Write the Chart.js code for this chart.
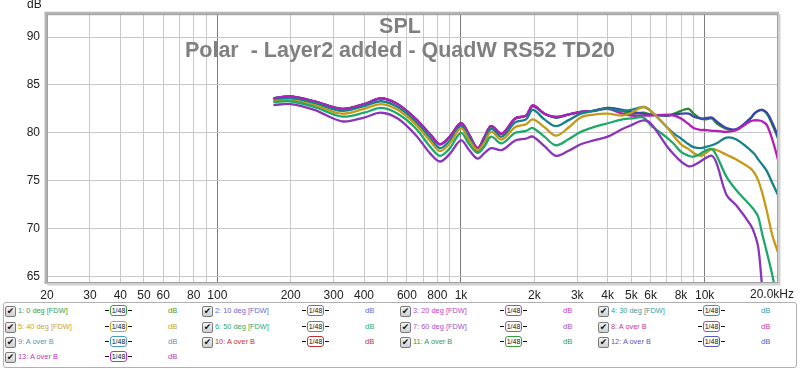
<!DOCTYPE html>
<html>
<head>
<meta charset="utf-8">
<script src="https://cdn.jsdelivr.net/npm/chart.js@4.4.0/dist/chart.umd.min.js"></script>
<style>
body{margin:0;background:#fff;font-family:"Liberation Sans",Arial,sans-serif;}
#wrap{position:relative;width:800px;height:300px;}
#legendBox{position:absolute;left:3px;top:302px;width:792px;height:64px;border:1px solid #b0b0b0;border-radius:3px;}
.cb{position:absolute;width:9px;height:9px;border:1px solid #7a7a7a;background:linear-gradient(#f4f4f4,#cfcfcf);border-radius:2px;font-size:9px;line-height:9px;text-align:center;color:#111;font-family:"DejaVu Sans",sans-serif;}
.lbl{position:absolute;font-size:7.4px;line-height:12px;white-space:nowrap;}
.flt{position:absolute;width:15px;height:9px;border:1.5px solid;border-radius:3px;font-size:7px;line-height:9px;text-align:center;color:#111;background:#fff;}
.flt:before,.flt:after{content:"";position:absolute;top:4px;width:4px;border-top:1.5px solid;}
.flt:before{left:-6px}.flt:after{right:-6px}
.db{position:absolute;font-size:7.6px;line-height:12px;}
</style>
</head>
<body>
<div id="wrap"><canvas id="spl" width="800" height="300"></canvas></div>
<div id="legendBox"></div>
<div id="legend"></div>
<script>
// frequency points (Hz) shared by all traces
const freqs = [170, 200, 250, 325, 400, 470, 550, 650, 750, 820, 900, 1000, 1080, 1170, 1250, 1330, 1470, 1670, 1850, 1970, 2200, 2450, 2750, 3100, 3500, 4000, 4600, 5000, 5600, 6000, 7000, 7500, 8000, 8600, 9000, 9600, 10000, 10700, 11200, 12300, 13500, 15400, 16000, 16600, 17200, 18000, 19000, 20000];

const deg0  = [83.6, 83.8, 83.3, 82.5, 83.0, 83.6, 83.0, 81.5, 79.8, 78.8, 79.6, 81.0, 79.8, 78.4, 79.6, 80.7, 79.9, 81.5, 81.8, 82.8, 82.0, 81.6, 81.9, 82.2, 82.3, 82.6, 82.3, 82.0, 82.1, 81.9, 81.8, 82.0, 82.3, 82.5, 82.0, 81.5, 81.4, 81.5, 81.0, 80.4, 80.3, 81.5, 82.0, 82.3, 82.4, 82.0, 80.8, 79.4];
const deg10 = [83.6, 83.8, 83.3, 82.5, 83.0, 83.6, 83.0, 81.5, 79.8, 78.8, 79.6, 81.0, 79.8, 78.4, 79.6, 80.7, 79.9, 81.5, 81.8, 82.8, 82.0, 81.6, 81.9, 82.2, 82.3, 82.6, 82.4, 82.2, 82.0, 81.9, 81.8, 81.9, 82.0, 82.0, 81.7, 81.5, 81.5, 81.6, 81.2, 80.5, 80.4, 81.5, 82.0, 82.3, 82.4, 82.1, 81.0, 79.6];
const deg20 = [83.6, 83.8, 83.3, 82.5, 83.0, 83.6, 83.0, 81.5, 79.8, 78.8, 79.6, 81.0, 79.8, 78.4, 79.6, 80.7, 79.9, 81.5, 81.8, 82.9, 82.0, 81.7, 81.9, 82.2, 82.3, 82.5, 82.0, 81.8, 81.8, 81.8, 81.9, 81.8, 81.5, 80.9, 80.5, 80.3, 80.3, 80.2, 80.2, 80.1, 80.3, 81.2, 81.3, 81.3, 81.2, 80.8, 79.2, 77.2];
const deg30 = [83.4, 83.6, 83.1, 82.3, 82.8, 83.3, 82.7, 81.2, 79.4, 78.4, 79.2, 80.7, 79.5, 78.1, 79.2, 80.4, 79.6, 81.1, 81.4, 82.4, 81.4, 80.7, 81.3, 82.0, 82.3, 82.5, 82.3, 82.4, 82.7, 82.3, 80.6, 79.9, 79.4, 78.8, 78.5, 78.4, 78.5, 78.7, 78.9, 79.5, 79.3, 78.2, 77.8, 77.2, 76.7, 76.0, 74.7, 73.5];
const deg40 = [83.3, 83.4, 82.9, 82.0, 82.5, 83.0, 82.4, 80.9, 79.1, 78.1, 78.9, 80.5, 79.2, 78.2, 79.0, 80.1, 79.3, 80.6, 80.9, 81.4, 80.6, 79.7, 80.5, 81.6, 81.9, 82.0, 81.8, 82.1, 82.7, 82.3, 80.6, 79.6, 78.8, 78.3, 77.9, 77.6, 77.8, 78.3, 78.2, 77.7, 77.2, 76.3, 75.8, 75.0, 73.8, 71.8, 69.2, 67.5];
const deg50 = [83.2, 83.3, 82.7, 81.7, 82.1, 82.6, 82.0, 80.5, 78.5, 77.6, 78.4, 80.0, 78.8, 77.9, 78.6, 79.6, 78.9, 80.0, 80.2, 80.5, 79.6, 78.7, 79.3, 80.1, 80.6, 81.0, 81.4, 81.5, 81.6, 80.8, 79.5, 78.8, 78.0, 77.6, 77.5, 77.8, 78.1, 78.3, 77.6, 75.4, 74.0, 72.4, 71.9, 71.2, 69.5, 67.5, 65.0, 62.0];
const deg60 = [82.9, 83.0, 82.4, 81.2, 81.6, 82.1, 81.5, 79.8, 77.8, 77.0, 77.8, 79.2, 78.2, 77.3, 77.9, 78.4, 78.2, 79.2, 79.4, 79.6, 78.6, 77.6, 78.1, 78.8, 79.2, 79.6, 80.4, 80.8, 81.3, 81.0, 78.6, 77.7, 77.0, 76.5, 76.6, 77.0, 77.3, 77.6, 76.8, 73.5, 72.4, 70.4, 69.5, 68.0, 64.0, 59.0, 55.0, 52.0];

const traceNames  = ['0 deg', '10 deg', '20 deg', '30 deg', '40 deg', '50 deg', '60 deg'];
const traceValues = [deg0, deg10, deg20, deg30, deg40, deg50, deg60];
const traceColors = ['#2a8c2a', '#3a46ac', '#b41eb8', '#18808a', '#c49a18', '#1ea86a', '#8a36b8'];

// x grid lines and their labels ('' = grid line only)
const xGrid   = [20, 30, 40, 50, 60, 70, 80, 90, 100, 200, 300, 400, 500, 600, 700, 800, 900, 1000, 2000, 3000, 4000, 5000, 6000, 7000, 8000, 9000, 10000, 20000];
const xLabels = ['20', '30', '40', '50', '60', '', '80', '', '100', '200', '300', '400', '', '600', '', '800', '', '1k', '2k', '3k', '4k', '5k', '6k', '', '8k', '', '10k', ''];
const yTicks  = [65, 70, 75, 80, 85, 90];

const legendLabels = ['1: 0 deg [FDW]', '2: 10 deg [FDW]', '3: 20 deg [FDW]', '4: 30 deg [FDW]', '5: 40 deg [FDW]', '6: 50 deg [FDW]', '7: 60 deg [FDW]', '8: A over B', '9: A over B', '10: A over B', '11: A over B', '12: A over B', '13: A over B'];
const legendColors = ['#3c9a3c', '#6a6acc', '#c040c0', '#3a9a9a', '#c8a030', '#30a86a', '#a050c8', '#c04098', '#4a98c8', '#c03030', '#3c9a3c', '#5858b8', '#c030c0'];

const FONT = '"Liberation Sans", Arial, sans-serif';

const overlay = {
  id: 'overlay',
  beforeDatasetsDraw(chart) {
    const c = chart.ctx;
    c.save();
    c.fillStyle = '#808080';
    c.font = 'bold 21.5px ' + FONT;
    c.textAlign = 'center';
    c.textBaseline = 'alphabetic';
    c.fillText('SPL', 400, 33);
    c.fillText('Polar  - Layer2 added - QuadW RS52 TD20', 400, 57);
    c.restore();
  },
  afterDraw(chart) {
    const c = chart.ctx, a = chart.chartArea;
    c.save();
    // frame
    c.strokeStyle = '#b4b4b4';
    c.lineWidth = 3;
    c.beginPath();
    c.moveTo(a.left - 1, a.bottom + 1);
    c.lineTo(a.left - 1, a.top - 1);
    c.lineTo(a.right + 1, a.top - 1);
    c.stroke();
    c.strokeStyle = '#d0d0d0';
    c.beginPath();
    c.moveTo(a.right + 1, a.top);
    c.lineTo(a.right + 1, a.bottom + 1);
    c.lineTo(a.left, a.bottom + 1);
    c.stroke();
    c.strokeStyle = '#a0a0a0';
    c.lineWidth = 1;
    c.strokeRect(a.left + 0.5, a.top + 0.5, a.right - a.left - 1, a.bottom - a.top - 1);
    // axis texts
    c.fillStyle = '#222';
    c.font = '12px ' + FONT;
    c.textBaseline = 'middle';
    c.textAlign = 'left';
    c.fillText('dB', 27, 5);
    c.textAlign = 'right';
    c.fillText('20.0kHz', 794, 295);
    c.restore();
  }
};

new Chart(document.getElementById('spl'), {
  type: 'line',
  data: {
    datasets: traceValues.map((vals, i) => ({
      label: traceNames[i],
      data: freqs.map((f, j) => ({ x: f, y: vals[j] })),
      borderColor: traceColors[i],
      borderWidth: 2.3,
      pointRadius: 0,
      tension: 0.35,
      fill: false
    })).reverse()
  },
  options: {
    responsive: false,
    animation: false,
    events: [],
    layout: { padding: { top: 14, right: 22, bottom: 0, left: 0 } },
    plugins: { legend: { display: false }, tooltip: { enabled: false }, title: { display: false } },
    scales: {
      x: {
        type: 'logarithmic',
        min: 20,
        max: 20000,
        afterBuildTicks: s => { s.ticks = xGrid.map(v => ({ value: v })); },
        afterFit: s => { s.height = 17; },
        border: { display: false },
        grid: {
          drawTicks: false,
          color: ctx => [100, 1000, 10000].includes(ctx.tick && ctx.tick.value) ? '#7c7c7c' : '#c8c8c8'
        },
        ticks: {
          autoSkip: false,
          maxRotation: 0,
          padding: 5,
          color: '#222',
          font: { size: 12, family: FONT },
          callback: (v, i) => xLabels[i]
        }
      },
      y: {
        min: 64.3,
        max: 92.4,
        afterBuildTicks: s => { s.ticks = yTicks.map(v => ({ value: v })); },
        afterFit: s => { s.width = 47; },
        border: { display: false },
        grid: { drawTicks: false, color: '#c8c8c8' },
        ticks: {
          padding: 7,
          color: '#222',
          font: { size: 12, family: FONT },
          callback: v => String(v)
        }
      }
    }
  },
  plugins: [overlay]
});

// legend rows in REW style
const legend = document.getElementById('legend');
const colX = [5, 202, 400, 598];
const rowY = [306, 322, 337, 352];
legendLabels.forEach((txt, i) => {
  const x = colX[i % 4], y = rowY[Math.floor(i / 4)], col = legendColors[i];
  legend.insertAdjacentHTML('beforeend',
    `<div class="cb" style="left:${x}px;top:${y}px">✔</div>` +
    `<div class="lbl" style="left:${x + 13}px;top:${y - 1}px;color:${col}">${txt}</div>` +
    `<div class="flt" style="left:${x + 105}px;top:${y - 1}px;border-color:${col};color:#111">1/48</div>` +
    `<div class="db" style="left:${x + 163}px;top:${y - 1}px;color:${col}">dB</div>`);
});
</script>
</body>
</html>
